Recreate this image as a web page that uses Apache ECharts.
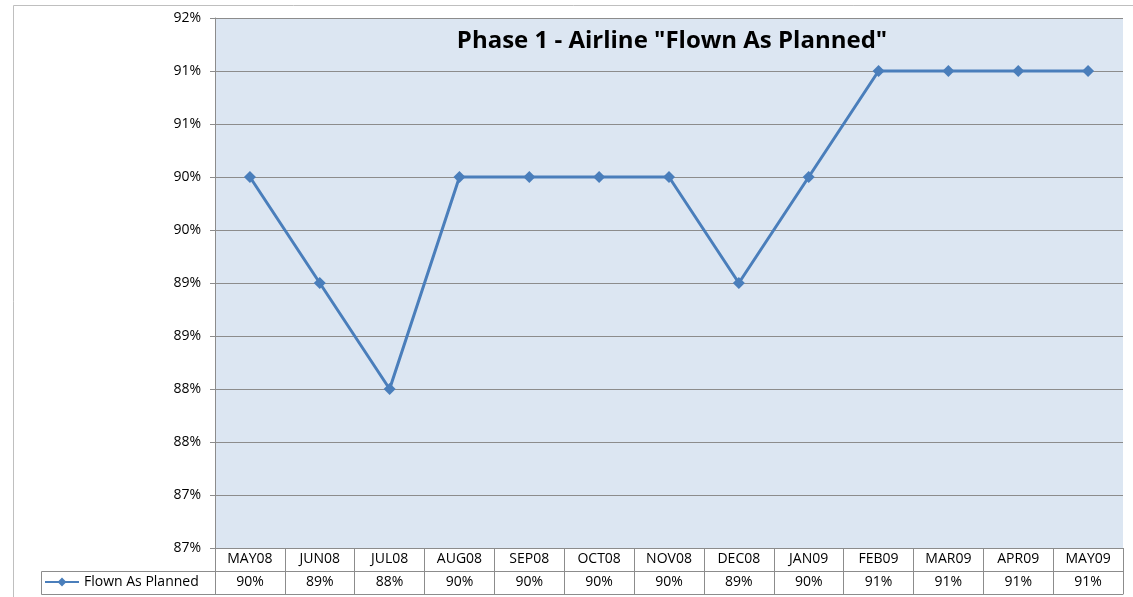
<!DOCTYPE html>
<html>
<head>
<meta charset="utf-8">
<script src="https://cdn.jsdelivr.net/npm/echarts@6/dist/echarts.min.js"></script>
<style>
  html, body { margin: 0; padding: 0; background: #fff; }
  #main { width: 1133px; height: 597px; }
</style>
</head>
<body>
<div id="main"></div>
<script>
var months = ["MAY08", "JUN08", "JUL08", "AUG08", "SEP08", "OCT08", "NOV08",
  "DEC08", "JAN09", "FEB09", "MAR09", "APR09", "MAY09"];
var flown = [90.5, 89.5, 88.5, 90.5, 90.5, 90.5, 90.5, 89.5, 90.5, 91.5, 91.5, 91.5, 91.5];
var flownText = ["90%", "89%", "88%", "90%", "90%", "90%", "90%", "89%", "90%", "91%", "91%", "91%", "91%"];
var seriesName = "Flown As Planned";

var font = "Open Sans";
var lineCol = "#4a7ebb";
var gridCol = "#8c8c8c";

var myChart = echarts.init(document.getElementById("main"));
myChart.setOption({
  backgroundColor: "#fff",
  animation: false,
  title: {
    text: 'Phase 1 - Airline "Flown As Planned"',
    left: 667,
    top: 24,
    textAlign: "center",
    textStyle: { fontFamily: font, fontSize: 24, fontWeight: "bold", color: "#000" }
  },
  legend: {
    left: 44,
    top: 575,
    itemWidth: 34,
    itemHeight: 11,
    itemGap: 4,
    padding: 0,
    data: [seriesName],
    textStyle: { fontFamily: font, fontSize: 14, color: "#000" }
  },
  grid: {
    left: 215,
    right: 10,
    top: 18,
    bottom: 49,
    show: true,
    backgroundColor: "#dce6f2",
    borderWidth: 0
  },
  xAxis: [
    {
      type: "category",
      data: months,
      position: "bottom",
      axisLine: { show: true, lineStyle: { color: gridCol, width: 1 } },
      axisTick: { show: true, length: 46, lineStyle: { color: gridCol } },
      axisLabel: { margin: 4, fontFamily: font, fontSize: 14, color: "#000", interval: 0 },
      splitLine: { show: false }
    },
    {
      type: "category",
      data: flownText,
      position: "bottom",
      offset: 23,
      axisLine: { show: true, lineStyle: { color: gridCol, width: 1 } },
      axisTick: { show: false },
      axisLabel: { margin: 4, fontFamily: font, fontSize: 14, color: "#000", interval: 0 },
      splitLine: { show: false }
    },
    {
      type: "category",
      data: months,
      position: "bottom",
      offset: 46,
      axisLine: { show: true, lineStyle: { color: gridCol, width: 1 } },
      axisTick: { show: false },
      axisLabel: { show: false },
      splitLine: { show: false }
    }
  ],
  yAxis: {
    type: "value",
    min: 87,
    max: 92,
    interval: 0.5,
    axisLine: { show: true, lineStyle: { color: gridCol } },
    axisTick: { show: true, length: 5, lineStyle: { color: gridCol } },
    axisLabel: {
      margin: 14,
      fontFamily: font,
      fontSize: 14,
      color: "#000",
      formatter: function (v) { return Math.floor(v + 1e-9) + "%"; }
    },
    splitLine: { show: true, lineStyle: { color: gridCol, width: 1 } }
  },
  graphic: [
    {
      type: "rect",
      silent: true,
      shape: { x: 13.5, y: 5.5, width: 1140, height: 620 },
      style: { fill: null, stroke: "#bfbfbf", lineWidth: 1 }
    },
    {
      type: "rect",
      silent: true,
      shape: { x: 41.5, y: 571.5, width: 174, height: 23 },
      style: { fill: null, stroke: gridCol, lineWidth: 1 }
    }
  ],
  series: [
    {
      name: seriesName,
      type: "line",
      data: flown,
      symbol: "diamond",
      symbolSize: 12,
      lineStyle: { color: lineCol, width: 3 },
      itemStyle: { color: lineCol }
    }
  ]
});
</script>
</body>
</html>
